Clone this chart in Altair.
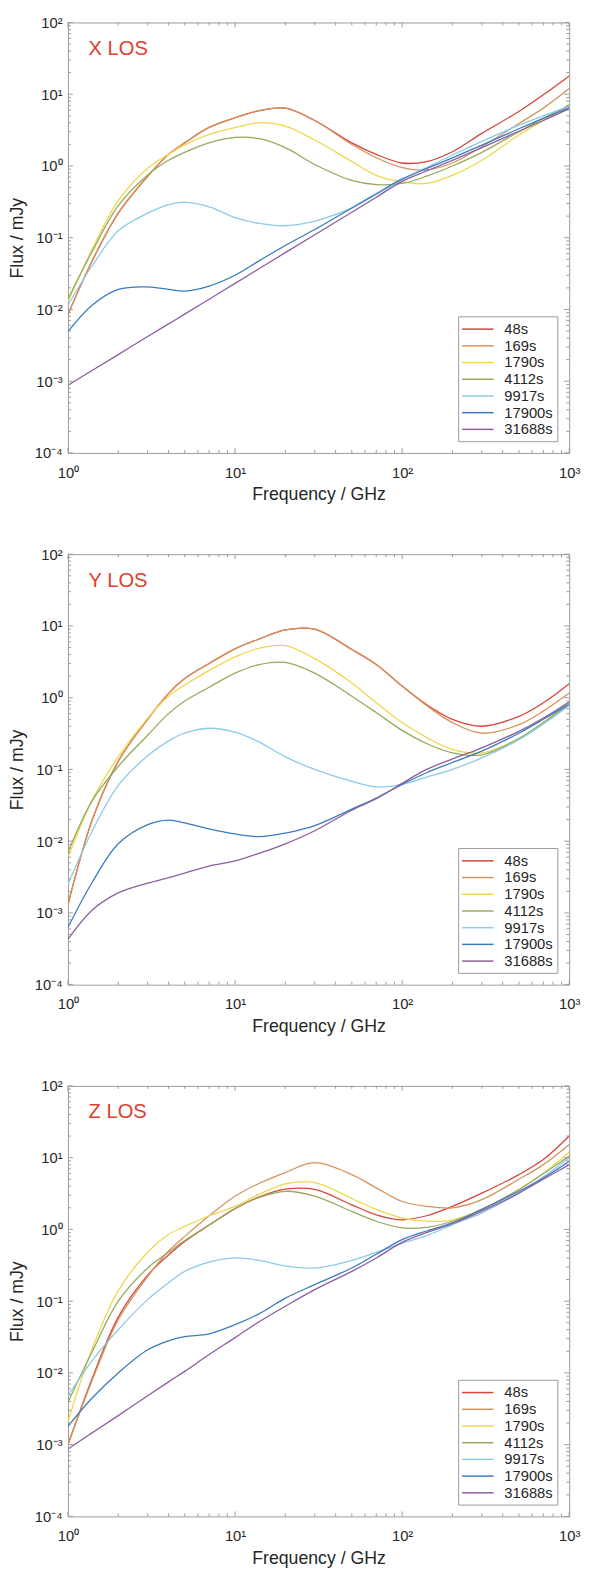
import altair as alt
import pandas as pd

FONT = "Liberation Sans"
FRAME = "#9a9a9a"
TXT = "#262626"
TITLE_RED = "#e0402c"

FREQ = [1, 1.4, 2, 3, 4, 5, 7, 10, 14, 20, 30, 50, 70, 100, 140, 200, 300, 500, 700, 1000]
SERIES = ["48s", "169s", "1790s", "4112s", "9917s", "17900s", "31688s"]
COLORS = ["#d8433a", "#d5935a", "#efd74b", "#94ab5b", "#8ccbe8", "#3a7bbd", "#8c5d9f"]

X_TICKS = [1, 10, 100, 1000]
Y_TICKS = [1e-4, 1e-3, 1e-2, 1e-1, 1, 10, 100]
X_LABELS = ["10⁰", "10¹", "10²", "10³"]
Y_LABELS = ["10⁻⁴", "10⁻³", "10⁻²", "10⁻¹", "10⁰", "10¹", "10²"]

# ---- X LOS ----
X_48 = [0.0085, 0.048, 0.22, 0.72, 1.45, 2.1, 3.45, 4.7, 5.9, 6.4, 4.3, 2.1, 1.45, 1.1, 1.15, 1.58, 2.85, 5.75, 9.8, 18]
X_169 = [0.0085, 0.048, 0.22, 0.72, 1.45, 2.1, 3.45, 4.7, 5.9, 6.4, 4.3, 2.0, 1.3, 0.95, 0.88, 1.1, 1.85, 3.9, 6.4, 12]
X_1790 = [0.0128, 0.07, 0.33, 0.93, 1.45, 1.97, 2.75, 3.43, 4.0, 3.6, 2.3, 1.15, 0.74, 0.6, 0.57, 0.74, 1.2, 2.7, 4.3, 7.1]
X_4112 = [0.014, 0.065, 0.28, 0.75, 1.2, 1.55, 2.1, 2.5, 2.4, 1.8, 1.05, 0.63, 0.55, 0.57, 0.72, 1.0, 1.55, 3.0, 4.6, 7.0]
X_9917 = [0.0115, 0.041, 0.125, 0.22, 0.29, 0.31, 0.27, 0.19, 0.158, 0.147, 0.17, 0.26, 0.4, 0.64, 0.95, 1.42, 2.2, 3.7, 5.0, 6.8]
X_17900 = [0.0049, 0.0115, 0.019, 0.0206, 0.019, 0.018, 0.0212, 0.03, 0.048, 0.078, 0.13, 0.26, 0.41, 0.66, 0.92, 1.3, 1.95, 3.3, 4.6, 6.5]
X_31688 = [0.00088, 0.00142, 0.00235, 0.0042, 0.0063, 0.0086, 0.0139, 0.0231, 0.0373, 0.062, 0.11, 0.227, 0.367, 0.61, 0.85, 1.2, 1.8, 3.05, 4.3, 6.3]

# ---- Y LOS ----
Y_48 = [0.0013, 0.02, 0.13, 0.5, 1.15, 1.85, 3.0, 4.8, 6.6, 8.8, 9.0, 4.7, 2.9, 1.45, 0.8, 0.5, 0.4, 0.55, 0.85, 1.57]
Y_169 = [0.0013, 0.02, 0.13, 0.5, 1.15, 1.85, 3.0, 4.8, 6.6, 8.8, 9.0, 4.7, 2.9, 1.45, 0.78, 0.45, 0.32, 0.42, 0.65, 1.16]
Y_1790 = [0.0059, 0.038, 0.15, 0.52, 1.05, 1.5, 2.4, 3.7, 4.9, 5.3, 3.5, 1.6, 0.85, 0.45, 0.28, 0.19, 0.17, 0.27, 0.45, 0.85]
Y_4112 = [0.007, 0.037, 0.11, 0.3, 0.6, 0.9, 1.4, 2.2, 2.9, 3.1, 2.2, 1.05, 0.62, 0.35, 0.23, 0.17, 0.16, 0.27, 0.45, 0.8]
Y_9917 = [0.0025, 0.014, 0.06, 0.155, 0.25, 0.32, 0.375, 0.33, 0.24, 0.15, 0.1, 0.068, 0.057, 0.062, 0.078, 0.1, 0.145, 0.26, 0.43, 0.78]
Y_17900 = [0.00063, 0.0027, 0.0092, 0.017, 0.0197, 0.018, 0.0148, 0.0126, 0.0116, 0.013, 0.0165, 0.028, 0.04, 0.062, 0.09, 0.125, 0.18, 0.32, 0.5, 0.82]
Y_31688 = [0.00043, 0.0011, 0.0019, 0.0026, 0.0031, 0.0036, 0.0045, 0.0053, 0.0068, 0.0092, 0.014, 0.027, 0.039, 0.064, 0.1, 0.14, 0.2, 0.34, 0.52, 0.88]

# ---- Z LOS ----
Z_48 = [0.001, 0.0085, 0.06, 0.23, 0.44, 0.68, 1.15, 1.95, 2.85, 3.65, 3.6, 2.2, 1.6, 1.36, 1.55, 2.1, 3.2, 5.8, 9.4, 20]
Z_169 = [0.001, 0.008, 0.055, 0.22, 0.5, 0.8, 1.55, 2.9, 4.4, 6.2, 8.5, 5.8, 3.8, 2.45, 2.1, 2.0, 2.6, 5.0, 8.0, 15.3]
Z_1790 = [0.0021, 0.022, 0.14, 0.48, 0.85, 1.1, 1.55, 2.1, 3.1, 4.3, 4.5, 2.7, 1.9, 1.44, 1.3, 1.35, 1.9, 3.6, 6.0, 12]
Z_4112 = [0.0039, 0.02, 0.1, 0.29, 0.48, 0.7, 1.15, 1.95, 2.8, 3.4, 2.9, 1.78, 1.3, 1.05, 1.07, 1.3, 1.9, 3.6, 6.0, 10.5]
Z_9917 = [0.0048, 0.015, 0.04, 0.105, 0.18, 0.26, 0.35, 0.4, 0.37, 0.31, 0.29, 0.37, 0.48, 0.64, 0.82, 1.16, 1.7, 3.2, 5.4, 10]
Z_17900 = [0.0018, 0.0045, 0.01, 0.021, 0.028, 0.032, 0.035, 0.047, 0.067, 0.11, 0.17, 0.29, 0.45, 0.72, 0.95, 1.23, 1.9, 3.4, 5.2, 8.9]
Z_31688 = [0.00087, 0.00147, 0.00254, 0.0048, 0.0075, 0.0105, 0.018, 0.031, 0.052, 0.085, 0.145, 0.26, 0.4, 0.66, 0.9, 1.2, 1.8, 3.2, 5.0, 8.0]

PANELS = [
    ("X LOS", [X_48, X_169, X_1790, X_4112, X_9917, X_17900, X_31688]),
    ("Y LOS", [Y_48, Y_169, Y_1790, Y_4112, Y_9917, Y_17900, Y_31688]),
    ("Z LOS", [Z_48, Z_169, Z_1790, Z_4112, Z_9917, Z_17900, Z_31688]),
]

W, H = 510, 438
MAJ_LEN, MIN_LEN = 5, 3

x_minor = [m * d for d in (1, 10, 100) for m in range(2, 10)]
y_minor = [m * d for d in (1e-4, 1e-3, 1e-2, 1e-1, 1, 10) for m in range(2, 10)]

xlab = "[" + ",".join("'%s'" % s for s in X_LABELS) + "][round(log(datum.value)/LN10)]"
ylab = "[" + ",".join("'%s'" % s for s in Y_LABELS) + "][round(log(datum.value)/LN10)+4]"

X_AXIS = alt.Axis(
    values=X_TICKS, labelExpr=xlab, ticks=False, domain=False, grid=False,
    labelFlush=False, labelOverlap=False, labelPadding=12.5, labelFontSize=15,
    labelFont=FONT, labelColor=TXT, title="Frequency / GHz", titleFont=FONT,
    titleFontSize=18, titleFontWeight="normal", titleColor=TXT, titlePadding=6)
Y_AXIS = alt.Axis(
    values=Y_TICKS, labelExpr=ylab, ticks=False, domain=False, grid=False,
    labelFlush=False, labelOverlap=False, labelPadding=6, labelFontSize=15,
    labelFont=FONT, labelColor=TXT, title="Flux / mJy", titleFont=FONT,
    titleFontSize=18, titleFontWeight="normal", titleColor=TXT, titlePadding=8)


def xs():
    return alt.Scale(type="log", domain=[1, 1000], nice=False)


def ys():
    return alt.Scale(type="log", domain=[1e-4, 100], nice=False)


def tick_layers():
    layers = []
    for vals, ln in ((X_TICKS, MAJ_LEN), (x_minor, MIN_LEN)):
        d = pd.DataFrame({"v": vals})
        xenc = alt.X("v:Q", scale=xs(), axis=X_AXIS)
        layers.append(alt.Chart(d).mark_rule(color=FRAME, strokeWidth=1).encode(
            x=xenc, y=alt.value(H), y2=alt.value(H - ln)))
        layers.append(alt.Chart(d).mark_rule(color=FRAME, strokeWidth=1).encode(
            x=xenc, y=alt.value(0), y2=alt.value(ln)))
    for vals, ln in ((Y_TICKS, MAJ_LEN), (y_minor, MIN_LEN)):
        d = pd.DataFrame({"v": vals})
        yenc = alt.Y("v:Q", scale=ys(), axis=Y_AXIS)
        layers.append(alt.Chart(d).mark_rule(color=FRAME, strokeWidth=1).encode(
            y=yenc, x=alt.value(0), x2=alt.value(ln)))
        layers.append(alt.Chart(d).mark_rule(color=FRAME, strokeWidth=1).encode(
            y=yenc, x=alt.value(W), x2=alt.value(W - ln)))
    return layers


def panel(name, arrays):
    rows = []
    for s, arr in zip(SERIES, arrays):
        for f, v in zip(FREQ, arr):
            rows.append({"freq": f, "flux": v, "series": s})
    df = pd.DataFrame(rows)

    lines = alt.Chart(df).mark_line(strokeWidth=1.3, interpolate="catmull-rom", clip=True).encode(
        x=alt.X("freq:Q", scale=xs(), axis=X_AXIS),
        y=alt.Y("flux:Q", scale=ys(), axis=Y_AXIS),
        color=alt.Color("series:N", sort=SERIES,
                        scale=alt.Scale(domain=SERIES, range=COLORS),
                        legend=alt.Legend(
                            title=None, orient="bottom-right", offset=12,
                            strokeColor=FRAME, fillColor="white", padding=4,
                            cornerRadius=0, labelFont=FONT, labelFontSize=15,
                            labelColor=TXT, symbolType="M-2,0H2", symbolSize=256,
                            symbolStrokeWidth=1.5, symbolOffset=7, labelOffset=18,
                            rowPadding=0)),
    )

    label = alt.Chart(pd.DataFrame({"t": [name]})).mark_text(
        align="left", baseline="alphabetic", font=FONT, fontSize=20.5, color=TITLE_RED
    ).encode(x=alt.value(21), y=alt.value(33), text="t:N")

    return alt.layer(lines, *tick_layers(), label).properties(width=W, height=H)


chart = alt.vconcat(*[panel(n, a) for n, a in PANELS], spacing=43).resolve_scale(
    color="independent"
).properties(
    padding={"left": 0, "top": -7, "right": 0, "bottom": 0}
).configure_view(stroke=FRAME, strokeWidth=1)

chart.save("out.html", embed_options={"renderer": "svg", "actions": False})
